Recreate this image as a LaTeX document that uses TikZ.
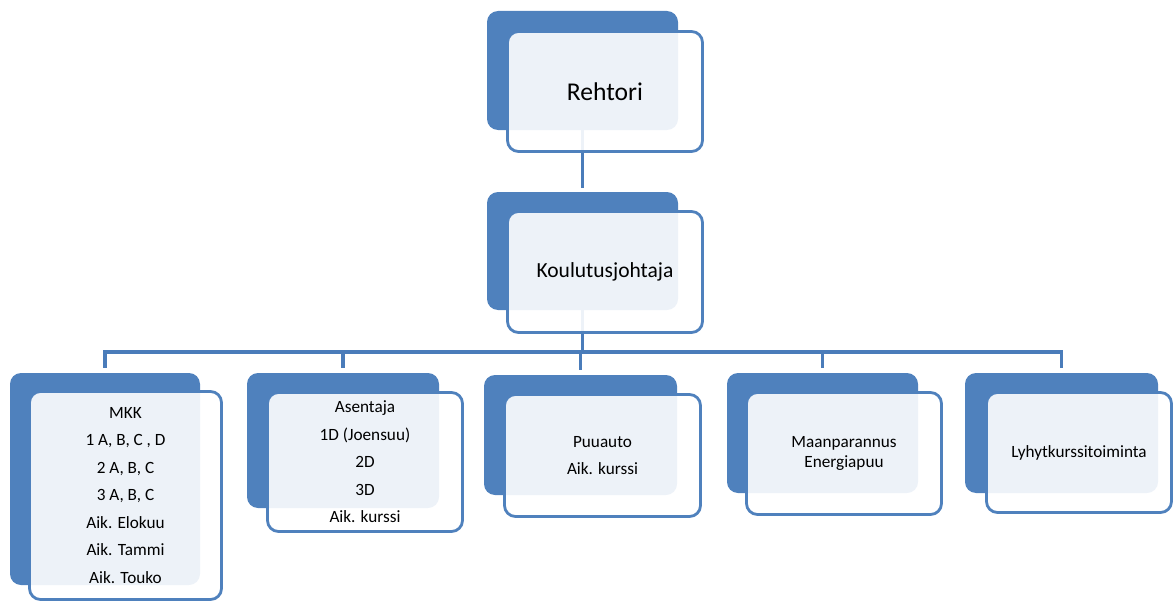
\documentclass[tikz,border=0pt]{standalone}
\usepackage{fontspec}
\setmainfont{Carlito}
\definecolor{officeblue}{RGB}{79,129,189}
\definecolor{linkblue}{RGB}{74,124,186}
\tikzset{
  backbox/.style={fill=officeblue, draw=none, rounded corners=11pt, inner sep=0pt},
  frontbox/.style={fill=white, fill opacity=0.9, text opacity=1, draw=officeblue,
    line width=2.8pt, rounded corners=11pt, inner sep=0pt, align=center, text=black},
  conn/.style={draw=linkblue, line width=3.2pt},
  big/.style={font=\fontsize{25.6}{30}\selectfont},
  mid/.style={font=\fontsize{21.5}{26}\selectfont},
  small/.style={font=\fontsize{17.2}{27.5}\selectfont},
  tight/.style={font=\fontsize{17.2}{20.5}\selectfont},
}
\begin{document}
\begin{tikzpicture}[x=1pt, y=-1pt]
\useasboundingbox (0,0) rectangle (1176,602);

% back plates
\node[backbox, minimum width=191pt, minimum height=119pt] (rb) at (582.5,70.5) {};
\node[backbox, minimum width=191pt, minimum height=118pt] (kb) at (582.5,251) {};
\node[backbox, minimum width=190pt, minimum height=212pt] (mb) at (105,479) {};
\node[backbox, minimum width=192pt, minimum height=135pt] (ab) at (343,440.5) {};
\node[backbox, minimum width=193pt, minimum height=120pt] (pb) at (580.5,435) {};
\node[backbox, minimum width=191pt, minimum height=120pt] (eb) at (822.5,433) {};
\node[backbox, minimum width=193pt, minimum height=120pt] (lb) at (1061.5,433) {};

% connectors
\coordinate (bus) at (582.5,352);
\draw[conn, shorten >=4pt] (rb.south) -- (kb.north);
\draw[conn] (kb.south) -- (bus);
\draw[conn, shorten >=5pt] (bus) -| (mb.north);
\draw[conn, shorten >=5pt] (bus) -| (ab.north);
\draw[conn, shorten >=5pt] (bus) -| (pb.north);
\draw[conn, shorten >=5pt] (bus) -| (eb.north);
\draw[conn, shorten >=5pt] (bus) -| (lb.north);

% front cards with the texts
\node[frontbox, big, minimum width=195pt, minimum height=120pt] (rf) at (605,91.5) {Rehtori};
\node[frontbox, mid, minimum width=195pt, minimum height=121pt] (kf) at (605,272) {Koulutusjohtaja};
\node[frontbox, small, minimum width=192pt, minimum height=208pt] (mf) at (125.5,495.5)
  {MKK\\1 A, B, C , D\\2 A, B, C\\3 A, B, C\\Aik. Elokuu\\Aik. Tammi\\Aik. Touko};
\node[frontbox, small, minimum width=195pt, minimum height=139pt] (af) at (365,462)
  {Asentaja\\1D (Joensuu)\\2D\\3D\\Aik. kurssi};
\node[frontbox, small, minimum width=196pt, minimum height=122pt] (pf) at (602.5,455.5)
  {Puuauto\\Aik. kurssi};
\node[frontbox, tight, minimum width=195pt, minimum height=122pt] (ef) at (844,453.5)
  {Maanparannus\\Energiapuu};
\node[frontbox, small, minimum width=185pt, minimum height=120pt] (lf) at (1079,452.5)
  {Lyhytkurssitoiminta};
\end{tikzpicture}
\end{document}
